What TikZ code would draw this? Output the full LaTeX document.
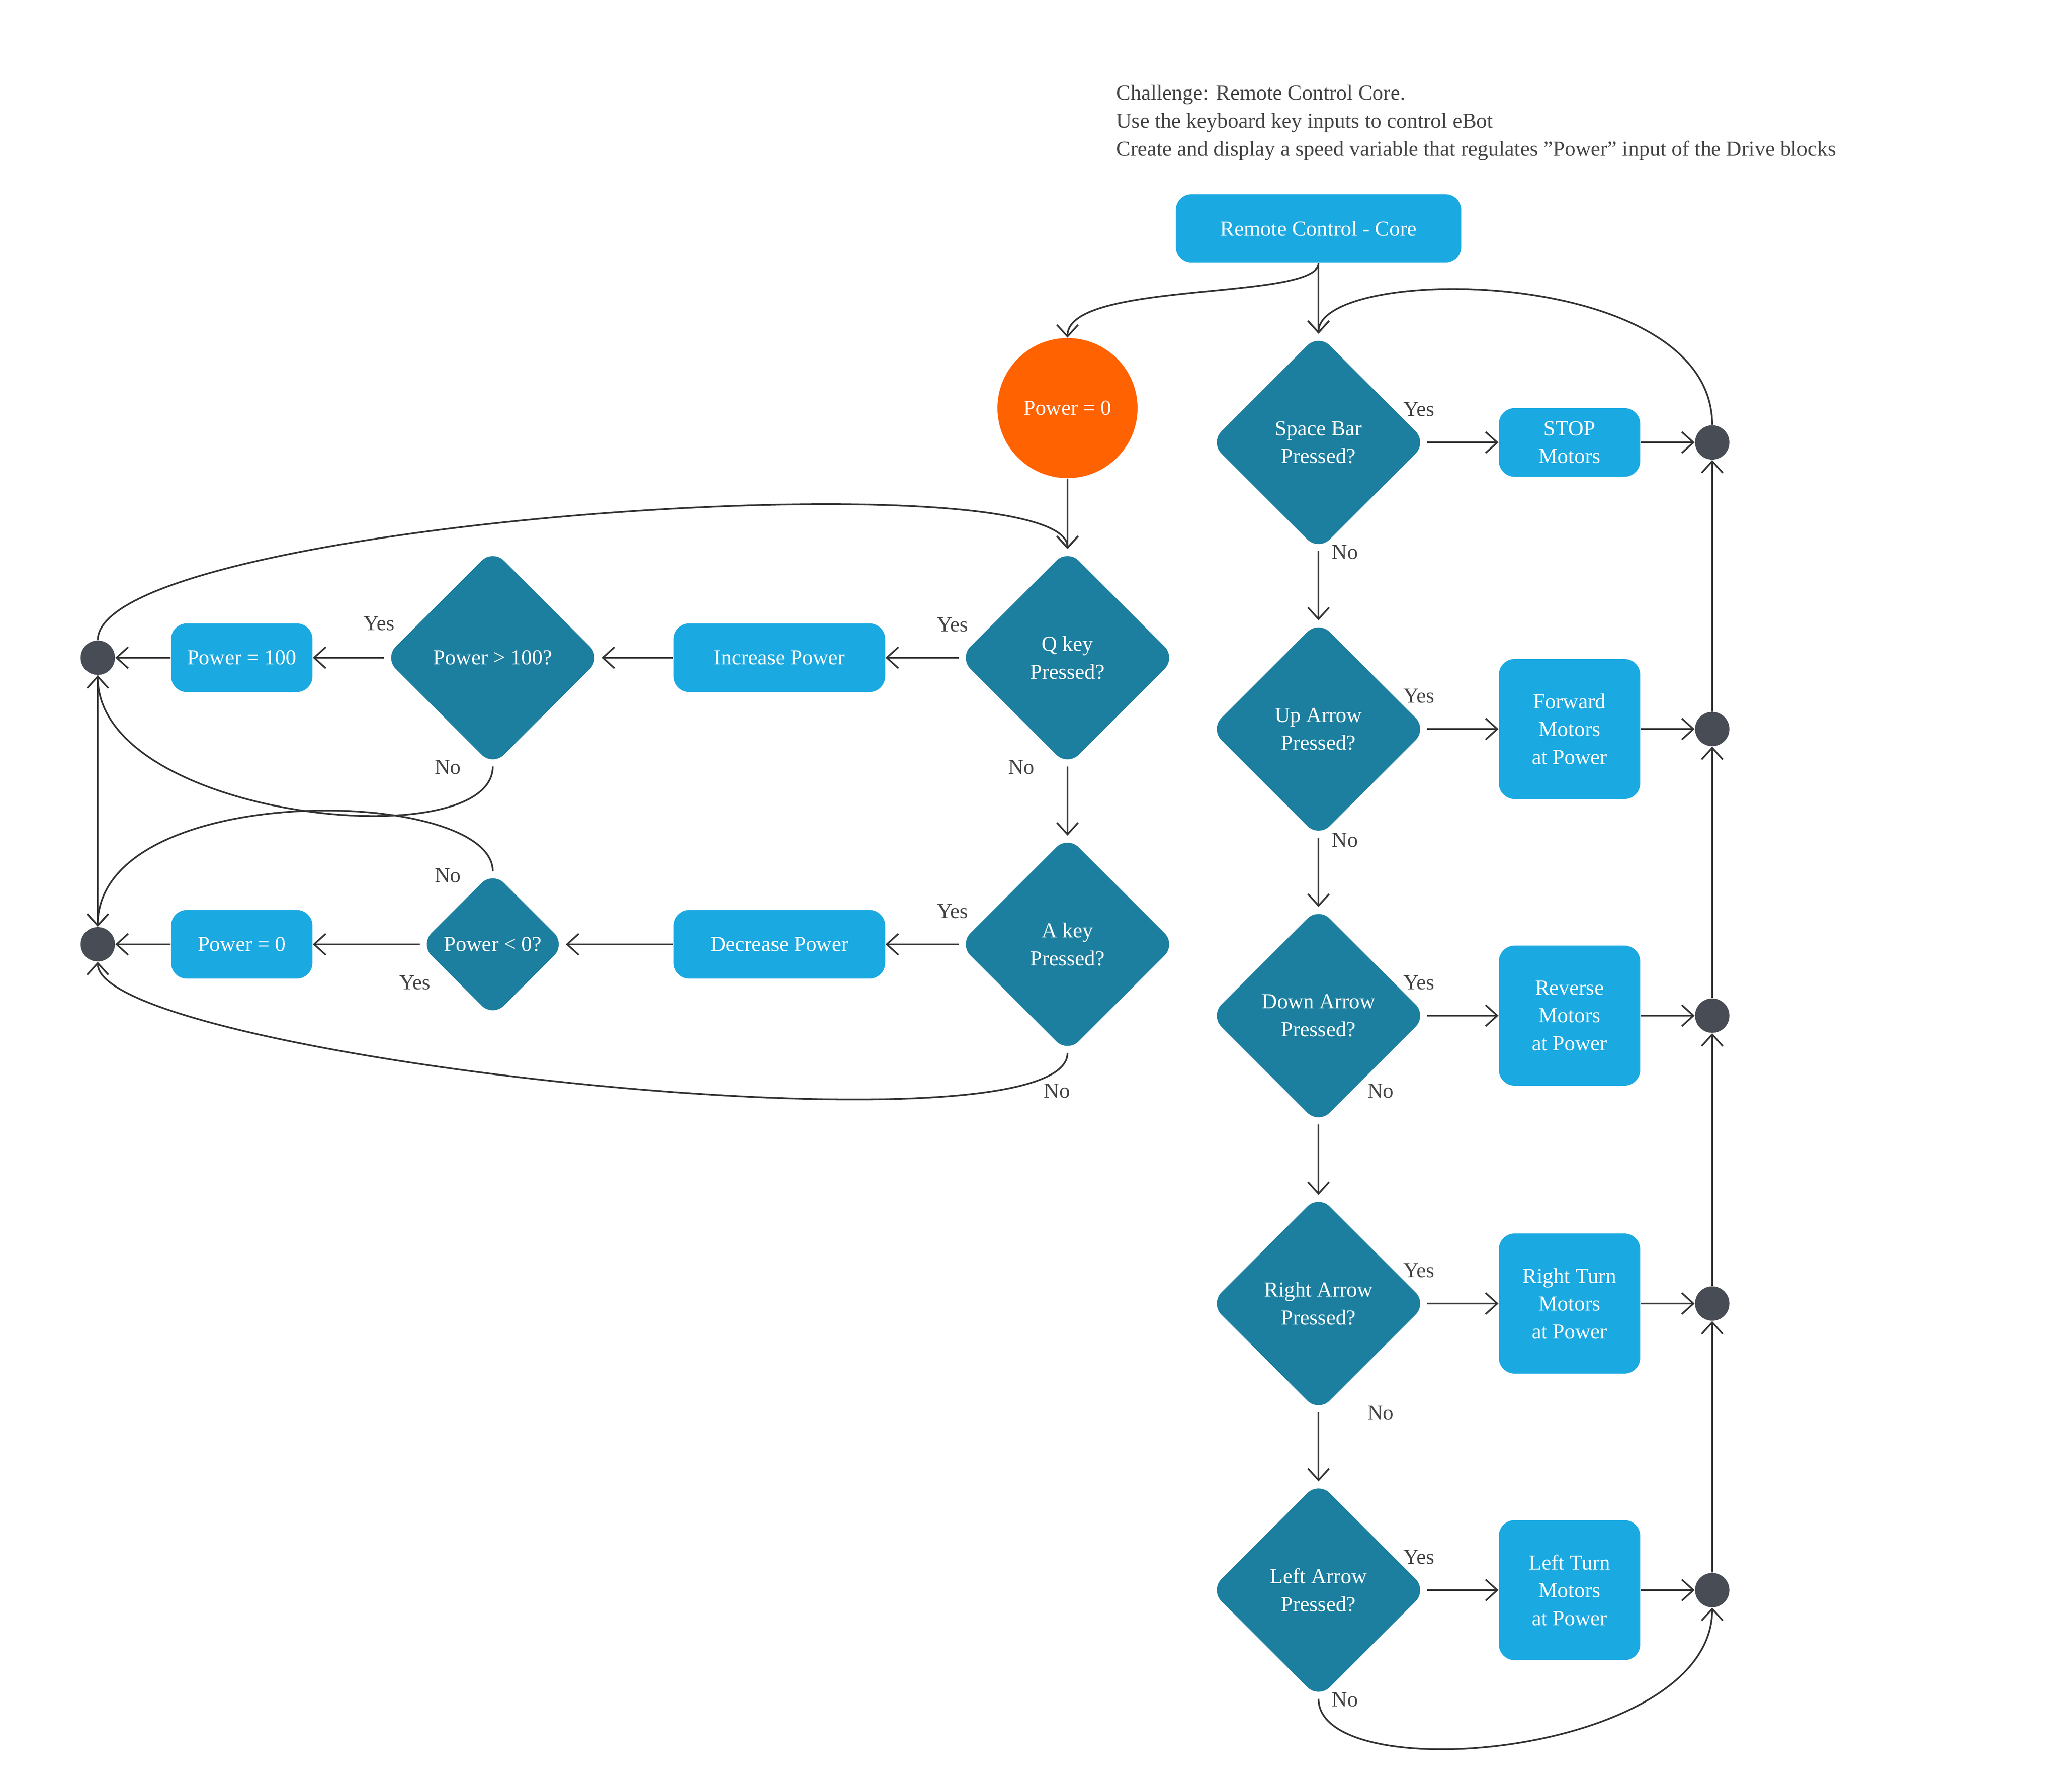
\documentclass[tikz,border=0pt]{standalone}
\usepackage{fontspec}
\setmainfont{Liberation Serif}
\usetikzlibrary{shapes.geometric,arrows.meta}
\definecolor{lb}{HTML}{1BA9E1}
\definecolor{dk}{HTML}{1D7F9F}
\definecolor{orn}{HTML}{FF6200}
\definecolor{jn}{HTML}{474C55}
\definecolor{ln}{HTML}{333333}
\definecolor{tx}{HTML}{444444}
\begin{document}
\begin{tikzpicture}[x=0.025cm,y=-0.025cm,
  every node/.style={font=\fontsize{11.5}{15}\selectfont},
  box/.style={rectangle,rounded corners=0.3cm,fill=lb,text=white,align=center,minimum height=1.3cm,inner sep=0},
  dia/.style={diamond,rounded corners=0.3cm,fill=dk,text=white,align=center,minimum width=4.1cm,minimum height=4.1cm,inner sep=0},
  jun/.style={circle,fill=jn,minimum size=0.65cm,inner sep=0},
  lab/.style={text=tx},
  arr/.style={draw=ln,line width=0.9pt,-{Straight Barb[length=2.2mm,width=4mm]}},
  ln/.style={draw=ln,line width=0.9pt}]
\useasboundingbox (0,0) rectangle (1559.25,1356.75);
\node[lab,anchor=west,align=left] (title) at (840,93) {Challenge: Remote Control Core.\\Use the keyboard key inputs to control eBot\\Create and display a speed variable that regulates "Power" input of the Drive blocks};
\node[box,minimum width=5.4cm] (core) at (998,173) {Remote Control - Core};
\node[circle,fill=orn,text=white,minimum size=2.65cm,inner sep=0] (p0) at (808,309) {Power = 0};
\node[dia] (sb) at (998,335) {Space Bar\\Pressed?};
\node[dia] (ua) at (998,552) {Up Arrow\\Pressed?};
\node[dia] (da) at (998,769) {Down Arrow\\Pressed?};
\node[dia] (ra) at (998,987) {Right Arrow\\Pressed?};
\node[dia] (la) at (998,1204) {Left Arrow\\Pressed?};
\node[box,minimum width=2.675cm] (b1) at (1188,335) {STOP\\Motors};
\node[box,minimum width=2.675cm,minimum height=2.65cm] (b2) at (1188,552) {Forward\\Motors\\at Power};
\node[box,minimum width=2.675cm,minimum height=2.65cm] (b3) at (1188,769) {Reverse\\Motors\\at Power};
\node[box,minimum width=2.675cm,minimum height=2.65cm] (b4) at (1188,987) {Right Turn\\Motors\\at Power};
\node[box,minimum width=2.675cm,minimum height=2.65cm] (b5) at (1188,1204) {Left Turn\\Motors\\at Power};
\foreach \i/\y in {1/335,2/552,3/769,4/987,5/1204} \node[jun] (j\i) at (1296,\y) {};
\node[dia] (q) at (808,498) {Q key\\Pressed?};
\node[dia] (a) at (808,715) {A key\\Pressed?};
\node[box,minimum width=4cm] (inc) at (590,498) {Increase Power};
\node[box,minimum width=4cm] (dec) at (590,715) {Decrease Power};
\node[dia] (pg) at (373,498) {Power > 100?};
\node[dia,minimum width=2.75cm,minimum height=2.75cm] (pl) at (373,715) {Power < 0?};
\node[box,minimum width=2.675cm] (p100) at (183,498) {Power = 100};
\node[box,minimum width=2.675cm] (pz) at (183,715) {Power = 0};
\node[jun] (jl1) at (74,498) {};
\node[jun] (jl2) at (74,715) {};
% right column
\draw[arr] (core.south) -- (sb.north);
\draw[arr] (core.south) .. controls (998,228) and (808,212) .. (p0.north);
\draw[arr] (j1.north) .. controls (1296,200) and (998,200) .. (sb.north);
\draw[arr] (sb) -- (b1); \draw[arr] (ua) -- (b2); \draw[arr] (da) -- (b3); \draw[arr] (ra) -- (b4); \draw[arr] (la) -- (b5);
\draw[arr] (b1) -- (j1); \draw[arr] (b2) -- (j2); \draw[arr] (b3) -- (j3); \draw[arr] (b4) -- (j4); \draw[arr] (b5) -- (j5);
\draw[arr] (sb) -- (ua); \draw[arr] (ua) -- (da); \draw[arr] (da) -- (ra); \draw[arr] (ra) -- (la);
\draw[arr] (j5) -- (j4); \draw[arr] (j4) -- (j3); \draw[arr] (j3) -- (j2); \draw[arr] (j2) -- (j1);
\draw[arr] (la.south) .. controls (998,1355) and (1296,1330) .. (j5.south);
% left part
\draw[arr] (p0) -- (q);
\draw[arr] (q) -- (a);
\draw[arr] (q) -- (inc); \draw[arr] (inc) -- (pg); \draw[arr] (pg) -- (p100); \draw[arr] (p100) -- (jl1);
\draw[arr] (a) -- (dec); \draw[arr] (dec) -- (pl); \draw[arr] (pl) -- (pz); \draw[arr] (pz) -- (jl2);
\draw[arr] (jl1.north) .. controls (74,395) and (808,345) .. (q.north);
\draw[arr] (pg.south) .. controls (373,650) and (74,620) .. (jl1.south);
\draw[arr] (pl.north) .. controls (373,595) and (74,590) .. (jl2.north);
\draw[arr] (a.south) .. controls (808,880) and (74,800) .. (jl2.south);
\draw[arr] (jl1) -- (jl2);
% labels
\foreach \x/\y/\t in {1074/310/Yes,1018/418/No,1074/527/Yes,1018/636/No,1074/744/Yes,1045/826/No,1074/962/Yes,1045/1070/No,1074/1179/Yes,1018/1287/No,721/473/Yes,773/581/No,721/690/Yes,800/826/No,287/472/Yes,339/581/No,339/663/No,314/744/Yes}
  \node[lab] at (\x,\y) {\t};
\end{tikzpicture}
\end{document}
